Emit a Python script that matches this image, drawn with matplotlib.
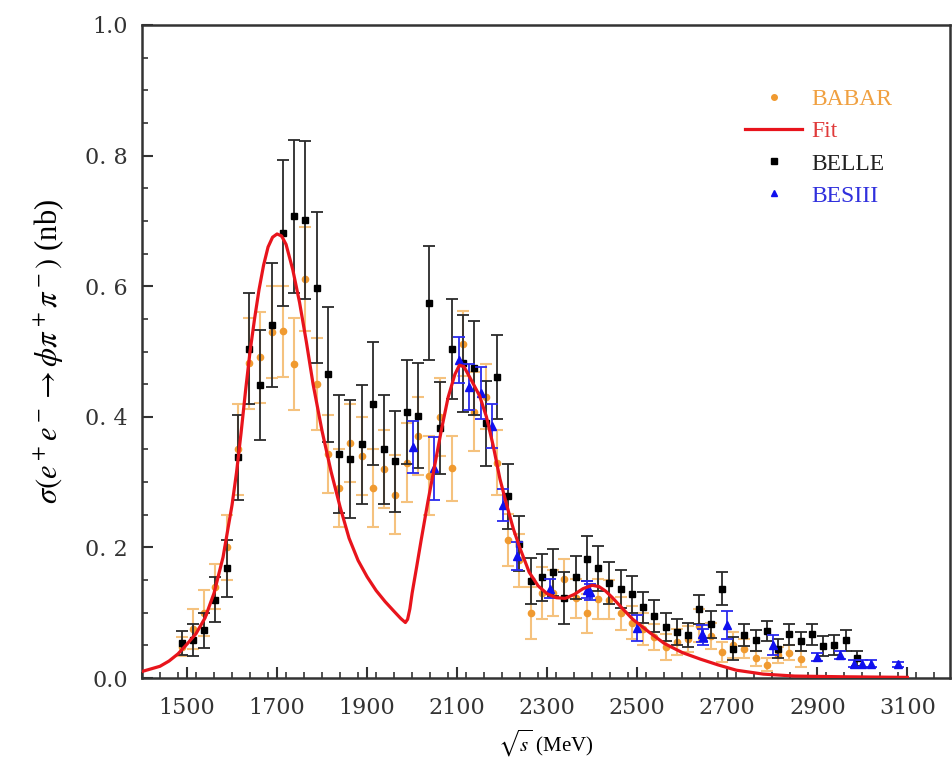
import matplotlib
matplotlib.use('Agg')
import matplotlib.pyplot as plt
from matplotlib.ticker import MultipleLocator
from matplotlib.lines import Line2D

plt.rcParams['font.family'] = ['Liberation Serif', 'DejaVu Serif']
plt.rcParams['mathtext.fontset'] = 'stix'

# BABAR (orange circles)
babar_x = [1488, 1513, 1538, 1563, 1588, 1613, 1638, 1663, 1688, 1713, 1738, 1763, 1788,
           1813, 1838, 1863, 1888, 1913, 1938, 1963, 1988, 2013, 2038, 2063, 2088, 2113,
           2138, 2163, 2188, 2213, 2238, 2263, 2288, 2313, 2338, 2363, 2388, 2413, 2438,
           2463, 2488, 2513, 2538, 2563, 2588, 2613, 2638, 2663, 2688, 2713, 2738, 2763,
           2788, 2813, 2838, 2863]
babar_y = [0.048, 0.075, 0.100, 0.140, 0.200, 0.350, 0.482, 0.491, 0.530, 0.531, 0.481, 0.611, 0.450,
           0.343, 0.291, 0.360, 0.340, 0.291, 0.320, 0.281, 0.330, 0.371, 0.310, 0.400, 0.321, 0.512,
           0.408, 0.431, 0.330, 0.211, 0.180, 0.099, 0.130, 0.130, 0.152, 0.122, 0.099, 0.121, 0.120,
           0.099, 0.085, 0.075, 0.063, 0.047, 0.055, 0.060, 0.080, 0.065, 0.040, 0.050, 0.045, 0.030,
           0.020, 0.035, 0.039, 0.029]
babar_err = [0.015, 0.030, 0.035, 0.035, 0.050, 0.070, 0.070, 0.070, 0.070, 0.070, 0.070, 0.080, 0.070,
             0.060, 0.060, 0.060, 0.060, 0.060, 0.060, 0.060, 0.060, 0.060, 0.060, 0.060, 0.050, 0.050,
             0.060, 0.050, 0.050, 0.040, 0.040, 0.040, 0.040, 0.035, 0.030, 0.030, 0.030, 0.030, 0.030,
             0.025, 0.025, 0.025, 0.020, 0.020, 0.020, 0.020, 0.025, 0.020, 0.015, 0.020, 0.015, 0.012,
             0.010, 0.012, 0.012, 0.012]

# BELLE (black squares)
belle_x = [1488, 1513, 1538, 1563, 1588, 1613, 1638, 1663, 1688, 1713, 1738, 1763, 1788,
           1813, 1838, 1863, 1888, 1913, 1938, 1963, 1988, 2013, 2038, 2063, 2088, 2113,
           2138, 2163, 2188, 2213, 2238, 2263, 2288, 2313, 2338, 2363, 2388, 2413, 2438,
           2463, 2488, 2513, 2538, 2563, 2588, 2613, 2638, 2663, 2688, 2713, 2738, 2763,
           2788, 2813, 2838, 2863, 2888, 2913, 2938, 2963, 2988]
belle_y = [0.054, 0.058, 0.073, 0.120, 0.168, 0.338, 0.504, 0.449, 0.541, 0.681, 0.707, 0.701, 0.598,
           0.465, 0.343, 0.335, 0.358, 0.420, 0.350, 0.332, 0.407, 0.402, 0.574, 0.383, 0.504, 0.482,
           0.475, 0.390, 0.461, 0.278, 0.206, 0.149, 0.154, 0.162, 0.122, 0.154, 0.183, 0.168, 0.145,
           0.136, 0.128, 0.108, 0.095, 0.078, 0.070, 0.066, 0.105, 0.082, 0.137, 0.045, 0.066, 0.058,
           0.072, 0.045, 0.067, 0.056, 0.067, 0.049, 0.051, 0.058, 0.030]
belle_err = [0.018, 0.025, 0.027, 0.034, 0.044, 0.065, 0.085, 0.084, 0.095, 0.112, 0.117, 0.121, 0.115,
             0.103, 0.091, 0.090, 0.091, 0.094, 0.084, 0.077, 0.080, 0.081, 0.087, 0.071, 0.076, 0.074,
             0.072, 0.065, 0.064, 0.050, 0.042, 0.035, 0.036, 0.036, 0.040, 0.033, 0.035, 0.034, 0.032,
             0.029, 0.029, 0.024, 0.025, 0.021, 0.020, 0.018, 0.022, 0.020, 0.025, 0.018, 0.017, 0.016,
             0.016, 0.015, 0.016, 0.015, 0.016, 0.015, 0.015, 0.016, 0.012]

# BESIII (blue triangles)
bes_x = [2001, 2049, 2103, 2127, 2153, 2177, 2202, 2232, 2307, 2389, 2396, 2500, 2644, 2646,
         2700, 2801, 2900, 2950, 2981, 3000, 3020, 3080]
bes_y = [0.354, 0.321, 0.487, 0.446, 0.437, 0.386, 0.265, 0.187, 0.137, 0.135, 0.132, 0.076, 0.068, 0.063,
         0.081, 0.051, 0.032, 0.035, 0.022, 0.022, 0.022, 0.021]
bes_err = [0.040, 0.048, 0.035, 0.035, 0.040, 0.033, 0.025, 0.021, 0.014, 0.013, 0.012, 0.020, 0.013, 0.012,
           0.022, 0.015, 0.006, 0.006, 0.005, 0.005, 0.005, 0.004]

# fit curve
fit_x = [1400, 1420, 1440, 1460, 1480, 1500, 1520, 1540, 1560, 1580, 1600, 1610, 1620, 1630,
         1640, 1650, 1660, 1670, 1680, 1690, 1700, 1710, 1720, 1735, 1750, 1765, 1780, 1800,
         1820, 1840, 1860, 1880, 1900, 1920, 1940, 1960, 1975, 1985, 1990, 1995, 2000, 2010,
         2020, 2035, 2050, 2065, 2080, 2095, 2105, 2115, 2130, 2150, 2165, 2180, 2195, 2210,
         2225, 2240, 2260, 2280, 2300, 2320, 2340, 2360, 2380, 2400, 2415, 2430, 2445, 2465,
         2490, 2525, 2560, 2600, 2640, 2680, 2720, 2780, 2850, 2950, 3100]
fit_y = [0.010, 0.014, 0.018, 0.026, 0.037, 0.052, 0.068, 0.092, 0.130, 0.185, 0.265, 0.315, 0.375, 0.440,
         0.500, 0.550, 0.595, 0.632, 0.660, 0.675, 0.680, 0.677, 0.664, 0.625, 0.575, 0.515, 0.450, 0.378,
         0.316, 0.262, 0.214, 0.180, 0.155, 0.134, 0.117, 0.102, 0.091, 0.085, 0.090, 0.106, 0.130, 0.170,
         0.211, 0.270, 0.325, 0.380, 0.430, 0.465, 0.479, 0.477, 0.458, 0.432, 0.400, 0.356, 0.305, 0.265,
         0.228, 0.198, 0.162, 0.141, 0.129, 0.123, 0.122, 0.128, 0.137, 0.142, 0.140, 0.133, 0.123, 0.108,
         0.090, 0.071, 0.053, 0.039, 0.029, 0.020, 0.012, 0.006, 0.003, 0.002, 0.001]

fig = plt.figure(figsize=(9.53, 7.69), dpi=100)
ax = fig.add_axes([0.149, 0.1183, 0.848, 0.8492])

ax.errorbar(babar_x, babar_y, yerr=babar_err, fmt='o', color='#f09a30', ms=4.5,
            ecolor='#f5c27e', elinewidth=1.5, capsize=4, capthick=1.5, zorder=2)
ax.errorbar(belle_x, belle_y, yerr=belle_err, fmt='s', color='black', ms=5,
            ecolor='#2a2a2a', elinewidth=1.3, capsize=4.5, capthick=1.3, zorder=3)
ax.errorbar(bes_x, bes_y, yerr=bes_err, fmt='^', color='#1010ee', ms=5.5,
            ecolor='#2a2aee', elinewidth=1.3, capsize=4, capthick=1.3, zorder=4)
ax.plot(fit_x, fit_y, color='#e8141c', lw=2.3, zorder=5)

ax.set_xlim(1400, 3195)
ax.set_ylim(0, 1.0)
ax.set_xticks([1500, 1700, 1900, 2100, 2300, 2500, 2700, 2900, 3100])
ax.xaxis.set_minor_locator(MultipleLocator(40))
ax.set_yticks([0.0, 0.2, 0.4, 0.6, 0.8, 1.0])
ax.set_yticklabels(['0.0', '0. 2', '0. 4', '0. 6', '0. 8', '1.0'])
ax.yaxis.set_minor_locator(MultipleLocator(0.05))
ax.tick_params(which='both', direction='in', top=False, right=False, colors='#333333')
ax.tick_params(which='major', length=8, width=1.5, labelsize=16)
ax.tick_params(which='minor', length=4, width=1.2)
ax.tick_params(axis='x', which='major', pad=14)
ax.tick_params(axis='y', which='major', pad=10)
for lab in ax.get_xticklabels() + ax.get_yticklabels():
    lab.set_family('DejaVu Serif')
for sp in ax.spines.values():
    sp.set_linewidth(1.8)
    sp.set_color('#333333')

ax.set_xlabel(r'$\sqrt{s}$ (MeV)', fontsize=15, labelpad=6)
ax.set_ylabel(r'$\sigma(e^+e^- \rightarrow \phi\pi^+\pi^-)$ (nb)', fontsize=22, labelpad=14)

handles = [
    Line2D([], [], ls='none', marker='o', ms=4, color='#f09a30'),
    Line2D([], [], color='#e8141c', lw=2.3),
    Line2D([], [], ls='none', marker='s', ms=4.5, color='black'),
    Line2D([], [], ls='none', marker='^', ms=5, color='#1010ee'),
]
labels = ['BABAR', 'Fit', 'BELLE', 'BESIII']
leg = ax.legend(handles, labels, loc='upper right', bbox_to_anchor=(0.955, 0.935),
                frameon=False, fontsize=17, labelspacing=0.45, handlelength=2.4,
                handletextpad=0.4)
text_colors = ['#f0a040', '#e03a3a', '#222222', '#3030dd']
for t, c in zip(leg.get_texts(), text_colors):
    t.set_color(c)

fig.savefig('out.png', dpi=100)
